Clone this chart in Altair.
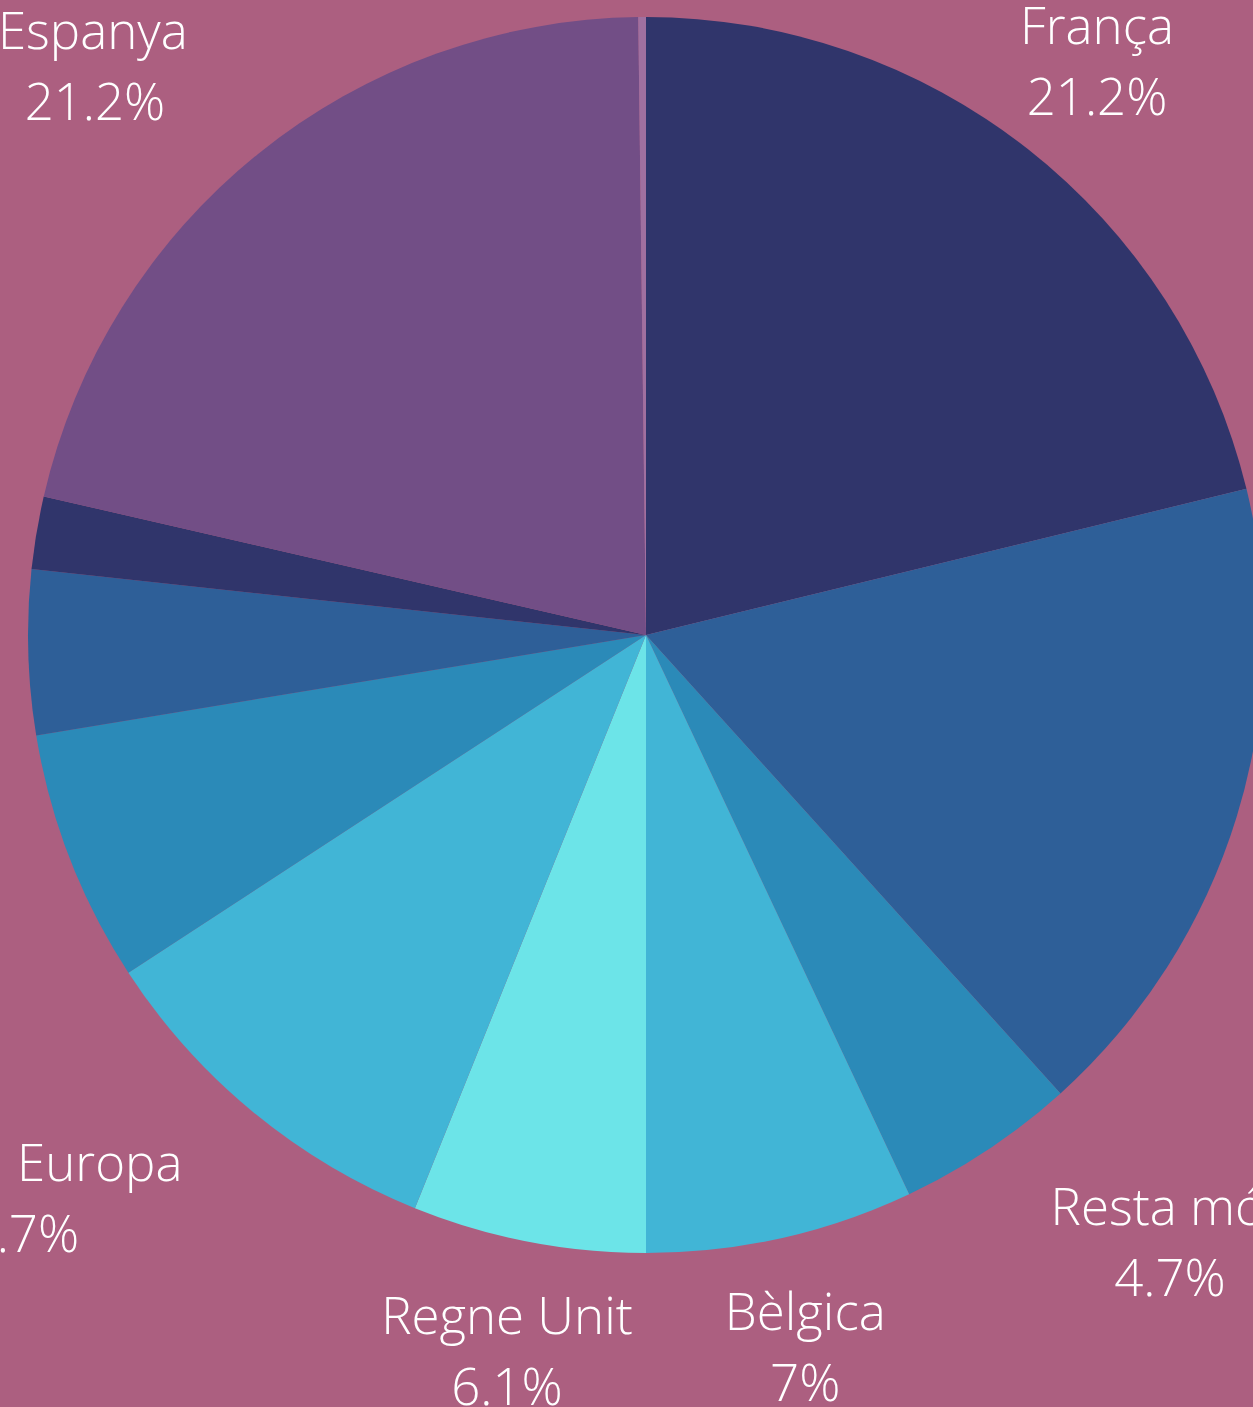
import altair as alt
import pandas as pd

# Data (clockwise from 12 o'clock)
names = ["França", "Alemanya", "Resta món", "Bèlgica", "Regne Unit", "Resta Europa",
         "Itàlia", "Països Baixos", "Suïssa", "Espanya", "Altres"]
values = [21.2, 17.1, 4.7, 7.0, 6.1, 9.7, 6.6, 4.3, 1.9, 21.2, 0.2]

# Styling
colors = ["#30356B", "#2E5F98", "#2B8AB8", "#41B5D6", "#6CE4E8", "#41B5D6",
          "#2B8AB8", "#2E5F98", "#30356B", "#724E86", "#A070A0"]
BG = "#AC5F80"
CX, CY, R = 646, 635, 618
LABEL_R = 730
FS = 51
CHAR_W = 0.52 * FS
LINE_GAP = 35.5
DY = 3

df = pd.DataFrame({"name": names, "value": values, "idx": list(range(len(names)))})

base = alt.Chart(df)

pie = base.mark_arc(outerRadius=R).encode(
    theta=alt.Theta("value:Q", stack=True),
    color=alt.Color("name:N", scale=alt.Scale(domain=names, range=colors), legend=None),
    order=alt.Order("idx:Q", sort="ascending"),
    x=alt.value(CX),
    y=alt.value(CY),
)

labels_base = base.transform_window(
    cum="sum(value)", sort=[alt.SortField("idx", order="ascending")], frame=[None, 0]
).transform_joinaggregate(
    total="sum(value)"
).transform_calculate(
    mid="2*PI*(datum.cum - datum.value/2)/datum.total",
    pct="format(datum.value, '.1~f') + '%'",
).transform_calculate(
    ax=f"{CX} + {LABEL_R}*sin(datum.mid)",
    ay=f"{CY} - {LABEL_R}*cos(datum.mid)",
    w=f"max(length(datum.name), length(datum.pct)) * {CHAR_W}",
).transform_calculate(
    cd=f"sqrt(pow(max(abs(datum.ax-{CX}) - datum.w/2, 0), 2) + pow(max(abs(datum.ay-{CY}) - 60, 0), 2))",
).transform_calculate(
    side="(datum.cd < 632 || abs(cos(datum.mid)) < 0.5) ? (sin(datum.mid) > 0 ? 1 : -1) : 0",
).transform_calculate(
    bx="datum.ax + datum.side * datum.w / 2",
    y1=f"datum.ay + {DY} - {LINE_GAP}",
    y2=f"datum.ay + {DY} + {LINE_GAP}",
)

text_style = dict(baseline="middle", fontSize=FS, font="Open Sans", fontWeight=300, color="white")


def name_layer(side, align):
    return labels_base.transform_filter(alt.datum.side == side).mark_text(
        align=align, **text_style
    ).encode(
        x=alt.X("ax:Q", scale=None, axis=None),
        y=alt.Y("y1:Q", scale=None, axis=None),
        text="name:N",
    )


pct_layer = labels_base.mark_text(align="center", **text_style).encode(
    x=alt.X("bx:Q", scale=None, axis=None),
    y=alt.Y("y2:Q", scale=None, axis=None),
    text="pct:N",
)

chart = alt.layer(
    pie,
    name_layer(0, "center"),
    name_layer(1, "left"),
    name_layer(-1, "right"),
    pct_layer,
).properties(
    width=1253, height=1407, background=BG, padding=0,
    autosize=alt.AutoSizeParams(type="none"),
).configure_view(stroke=None)

chart.save("out.html", embed_options={"renderer": "svg", "actions": False})
